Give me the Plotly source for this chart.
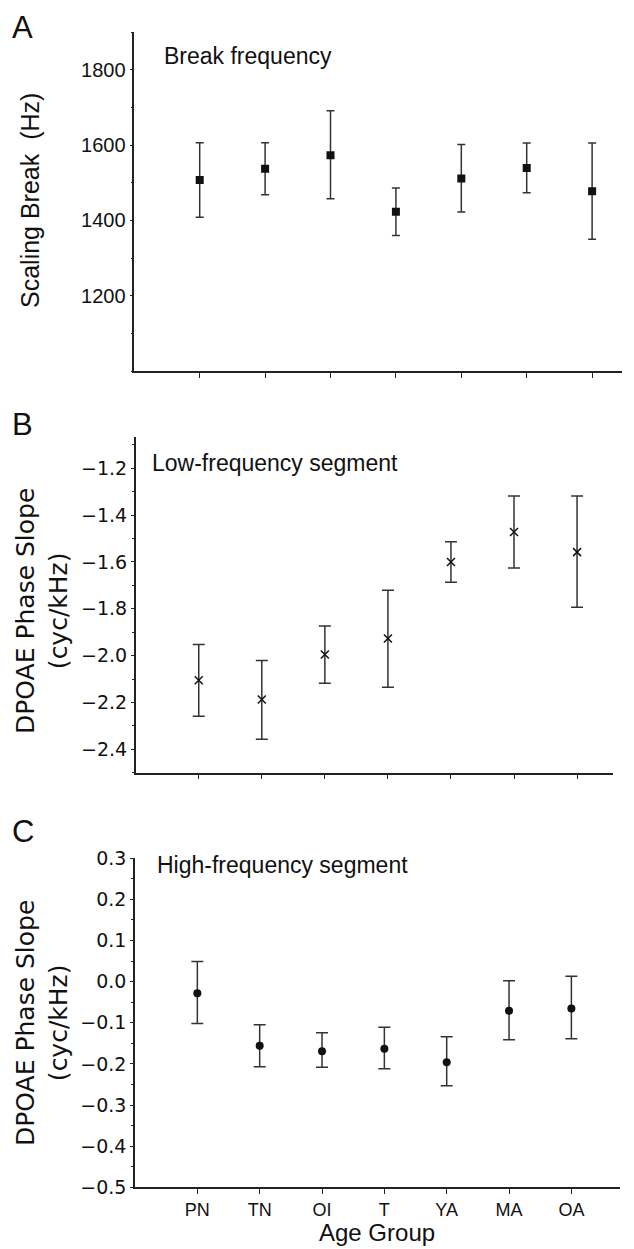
import numpy as np
import plotly.graph_objects as go

W, H = 634, 1249

# ---------------- data ----------------
groups = ["PN", "TN", "OI", "T", "YA", "MA", "OA"]
positions = [1, 2, 3, 4, 5, 6, 7]

# Panel A: break frequency (Hz)
break_mean = [1507, 1537, 1573, 1423, 1511, 1539, 1477]
break_upper = [1606, 1606, 1691, 1486, 1601, 1605, 1605]
break_lower = [1408, 1468, 1457, 1360, 1422, 1473, 1350]

# Panel B: low-frequency segment slope (cyc/kHz)
low_mean = [-2.105, -2.187, -1.995, -1.927, -1.600, -1.472, -1.558]
low_upper = [-1.952, -2.021, -1.873, -1.721, -1.514, -1.318, -1.318]
low_lower = [-2.259, -2.357, -2.118, -2.135, -1.687, -1.626, -1.793]

# Panel C: high-frequency segment slope (cyc/kHz)
high_mean = [-0.028, -0.156, -0.169, -0.163, -0.196, -0.071, -0.065]
high_upper = [0.049, -0.105, -0.124, -0.111, -0.134, 0.002, 0.013]
high_lower = [-0.102, -0.207, -0.208, -0.212, -0.253, -0.141, -0.139]

yticks_A = [1200, 1400, 1600, 1800]
yticks_B = [-2.4, -2.2, -2.0, -1.8, -1.6, -1.4, -1.2]
yticks_C = [-0.5, -0.4, -0.3, -0.2, -0.1, 0.0, 0.1, 0.2, 0.3]

# ---------------- layout helpers ----------------
def px_x(p):
    return p / W

def px_y(p):
    return 1 - p / H

ARIAL = "Liberation Sans, Arial, sans-serif"
DEJAVU = "DejaVu Sans, sans-serif"
AX = "#222222"
ERR = "#333333"

panels = [
    dict(mean=break_mean, up=break_upper, lo=break_lower,
         symbol="square", msize=8, mline=0, capw=4,
         xdom=(134.3, 622), xrng=[0, 7.457],
         ydom=(32, 371), yrng=[1000, 1900], yticks=yticks_A, minor=100,
         tfont=ARIAL, tsize=20, fmt=None),
    dict(mean=low_mean, up=low_upper, lo=low_lower,
         symbol="x-thin-open", msize=8, mline=1.5, capw=6,
         xdom=(135.7, 613), xrng=[0, 7.57],
         ydom=(436.7, 772.7), yrng=[-2.5, -1.065], yticks=yticks_B, minor=0.1,
         tfont=DEJAVU, tsize=19, fmt=".1f"),
    dict(mean=high_mean, up=high_upper, lo=high_lower,
         symbol="circle", msize=8, mline=0, capw=6,
         xdom=(135, 620), xrng=[0, 7.78],
         ydom=(858.3, 1187.3), yrng=[-0.5, 0.3], yticks=yticks_C, minor=0.05,
         tfont=DEJAVU, tsize=19, fmt=".1f"),
]

fig = go.Figure()
layout = {}

for i, p in enumerate(panels):
    n = i + 1
    xs = "" if n == 1 else str(n)
    mean = np.array(p["mean"], dtype=float)
    up = np.array(p["up"], dtype=float)
    lo = np.array(p["lo"], dtype=float)
    fig.add_trace(go.Scatter(
        x=positions, y=mean, mode="markers",
        xaxis="x" + xs, yaxis="y" + xs,
        marker=dict(symbol=p["symbol"], size=p["msize"], color="#111111",
                    line=dict(width=p["mline"], color="#111111")),
        error_y=dict(type="data", symmetric=False,
                     array=up - mean, arrayminus=mean - lo,
                     color=ERR, thickness=1.5, width=p["capw"]),
        showlegend=False, hoverinfo="skip",
    ))

    last = (n == 3)
    layout["xaxis" + xs] = dict(
        domain=[px_x(p["xdom"][0]), px_x(p["xdom"][1])],
        range=p["xrng"], anchor="y" + xs, automargin=False,
        showline=True, linecolor=AX, linewidth=1.5,
        ticks="outside", ticklen=5, tickwidth=1.3, tickcolor=AX,
        tickmode="array", tickvals=positions, ticktext=groups,
        showticklabels=last, showgrid=False, zeroline=False,
        tickfont=dict(family=ARIAL, size=18, color="#111111"),
    )
    layout["yaxis" + xs] = dict(
        domain=[px_y(p["ydom"][1]), px_y(p["ydom"][0])],
        range=p["yrng"], anchor="x" + xs, automargin=False,
        showline=True, linecolor=AX, linewidth=1.5,
        ticks="outside", ticklen=3, tickwidth=1.3, tickcolor=AX,
        tickmode="array", tickvals=p["yticks"],
        tickformat=p["fmt"] if p["fmt"] else None,
        minor=dict(dtick=p["minor"], tick0=p["yrng"][0], ticks="outside",
                   ticklen=2, tickwidth=1.2, tickcolor=AX, showgrid=False),
        showgrid=False, zeroline=False,
        tickfont=dict(family=p["tfont"], size=p["tsize"], color="#111111"),
    )
    # overlay axes to draw the inward half of the crossing ticks
    ox = str(n + 3)
    layout["xaxis" + ox] = dict(
        overlaying="x" + xs, anchor="y" + xs, range=p["xrng"], automargin=False,
        showline=False, ticks="inside", ticklen=5, tickwidth=1.3, tickcolor=AX,
        tickmode="array", tickvals=positions[1::2],
        showticklabels=False, showgrid=False, zeroline=False,
    )
    layout["yaxis" + ox] = dict(
        overlaying="y" + xs, anchor="x" + xs, side="left", range=p["yrng"],
        automargin=False,
        showline=False, ticks="inside", ticklen=3, tickwidth=1.3, tickcolor=AX,
        tickmode="array", tickvals=p["yticks"],
        minor=dict(dtick=p["minor"], tick0=p["yrng"][0], ticks="inside",
                   ticklen=2, tickwidth=1.2, tickcolor=AX, showgrid=False),
        showticklabels=False, showgrid=False, zeroline=False,
    )

annotations = []
def ann(text, x, y, size, family, xanchor="center", yanchor="middle", angle=0):
    annotations.append(dict(
        text=text, x=px_x(x), y=px_y(y), xref="paper", yref="paper",
        xanchor=xanchor, yanchor=yanchor, textangle=angle, showarrow=False,
        font=dict(family=family, size=size, color="#111111"),
    ))

# panel letters
ann("A", 10, 28, 31, ARIAL, xanchor="left")
ann("B", 10, 424, 31, ARIAL, xanchor="left")
ann("C", 10, 831, 31, ARIAL, xanchor="left")
# panel captions
ann("Break frequency", 162, 56, 23, ARIAL, xanchor="left")
ann("Low-frequency segment", 150, 463, 23, ARIAL, xanchor="left")
ann("High-frequency segment", 155, 865, 23, ARIAL, xanchor="left")
# axis titles
ann("Scaling Break  (Hz)", 30, 201, 25, ARIAL, angle=-90)
ann("DPOAE Phase Slope<br>(cyc/kHz)", 42, 611, 25, DEJAVU, angle=-90)
ann("DPOAE Phase Slope<br>(cyc/kHz)", 42, 1023, 25, DEJAVU, angle=-90)
ann("Age Group", 377, 1248, 24, ARIAL, yanchor="bottom")

fig.update_layout(
    width=W, height=H,
    margin=dict(l=0, r=0, t=0, b=0, autoexpand=False),
    paper_bgcolor="white", plot_bgcolor="white",
    annotations=annotations,
    **layout,
)

fig.write_html("out.html")
